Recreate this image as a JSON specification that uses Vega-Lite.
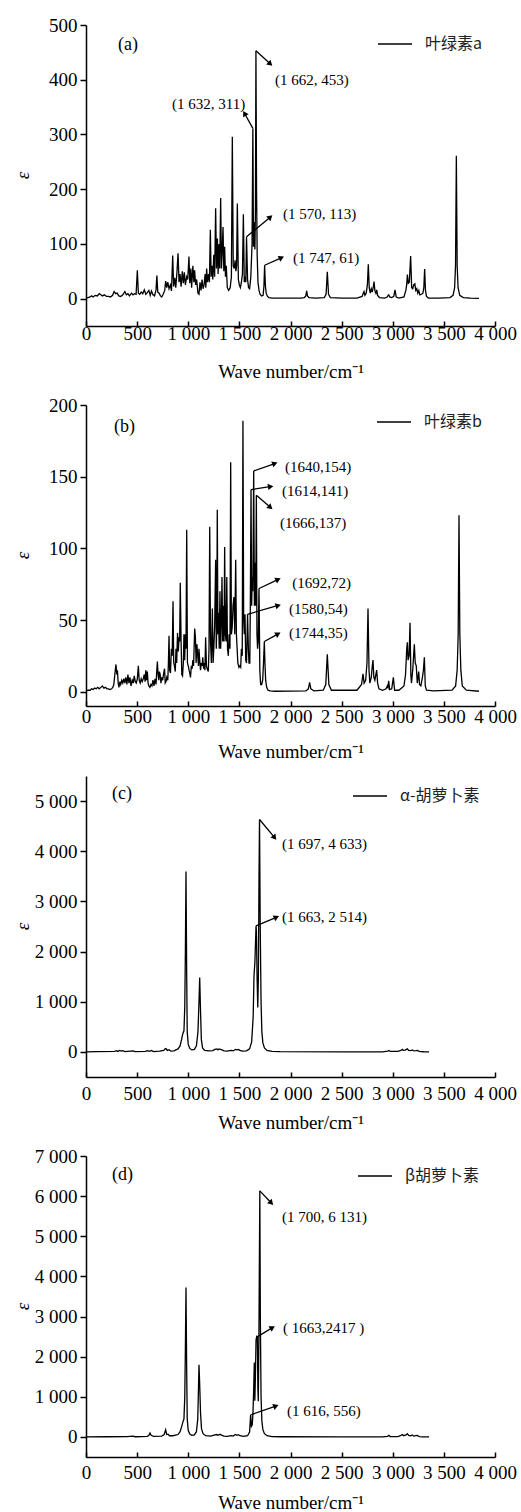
{
  "$schema": "https://vega.github.io/schema/vega-lite/v6.json",
  "background": "white",
  "padding": {"left": 13, "top": 16, "right": 4, "bottom": 0},
  "config": {
    "font": "Liberation Serif",
    "view": {"stroke": null},
    "axis": {"labelFont": "Liberation Serif", "labelFontSize": 19, "labelColor": "black", "titleFont": "Liberation Serif", "titleFontSize": 19, "titleColor": "black", "titleFontWeight": "normal", "domainColor": "black", "domainWidth": 1.5, "tickColor": "black", "tickWidth": 1.5, "grid": false},
    "axisX": {"tickSize": -5, "labelPadding": 3, "labelFlush": false, "labelOverlap": false},
    "axisY": {"tickSize": 6, "labelPadding": 3, "titleX": -64, "titleY": 150, "titleAlign": "center", "titleBaseline": "middle", "titleFontStyle": "italic", "labelOverlap": false},
    "legend": {"orient": "none", "title": null, "symbolType": "stroke", "symbolSize": 1156, "symbolStrokeWidth": 1.5, "labelFont": "Noto Sans CJK SC", "labelFontSize": 16, "labelColor": "#222", "labelOffset": 12},
    "concat": {"spacing": 15}
  },
  "resolve": {"scale": {"color": "independent", "x": "independent", "y": "independent"}, "legend": {"color": "independent"}},
  "datasets": {
    "specA": [
      {"wn":0,"eps":1},{"wn":20,"eps":2},{"wn":40,"eps":3},{"wn":55,"eps":5},{"wn":70,"eps":3},{"wn":90,"eps":6},{"wn":110,"eps":5},{"wn":130,"eps":9},{"wn":145,"eps":7},{"wn":160,"eps":5},{"wn":180,"eps":7},{"wn":200,"eps":4},{"wn":220,"eps":4},{"wn":240,"eps":3},{"wn":260,"eps":6},{"wn":275,"eps":13},{"wn":290,"eps":9},{"wn":305,"eps":10},{"wn":320,"eps":5},{"wn":340,"eps":4},{"wn":360,"eps":7},{"wn":380,"eps":13},{"wn":395,"eps":7},{"wn":410,"eps":9},{"wn":425,"eps":5},{"wn":445,"eps":10},{"wn":460,"eps":7},{"wn":475,"eps":9},{"wn":490,"eps":8},{"wn":502,"eps":52},{"wn":512,"eps":10},{"wn":525,"eps":8},{"wn":540,"eps":12},{"wn":555,"eps":9},{"wn":570,"eps":16},{"wn":585,"eps":8},{"wn":600,"eps":11},{"wn":615,"eps":15},{"wn":628,"eps":6},{"wn":640,"eps":14},{"wn":655,"eps":7},{"wn":670,"eps":5},{"wn":685,"eps":16},{"wn":693,"eps":42},{"wn":702,"eps":12},{"wn":715,"eps":10},{"wn":728,"eps":5},{"wn":740,"eps":3},{"wn":755,"eps":8},{"wn":770,"eps":15},{"wn":779,"eps":32},{"wn":790,"eps":20},{"wn":800,"eps":30},{"wn":812,"eps":18},{"wn":825,"eps":25},{"wn":836,"eps":14},{"wn":848,"eps":79},{"wn":857,"eps":22},{"wn":868,"eps":38},{"wn":878,"eps":20},{"wn":890,"eps":50},{"wn":900,"eps":83},{"wn":910,"eps":30},{"wn":920,"eps":45},{"wn":930,"eps":22},{"wn":942,"eps":50},{"wn":952,"eps":28},{"wn":962,"eps":48},{"wn":972,"eps":25},{"wn":985,"eps":40},{"wn":995,"eps":35},{"wn":1007,"eps":77},{"wn":1015,"eps":28},{"wn":1025,"eps":55},{"wn":1033,"eps":20},{"wn":1045,"eps":60},{"wn":1055,"eps":30},{"wn":1062,"eps":52},{"wn":1072,"eps":25},{"wn":1082,"eps":35},{"wn":1095,"eps":10},{"wn":1105,"eps":8},{"wn":1115,"eps":30},{"wn":1125,"eps":15},{"wn":1135,"eps":35},{"wn":1145,"eps":18},{"wn":1155,"eps":25},{"wn":1165,"eps":45},{"wn":1172,"eps":20},{"wn":1180,"eps":55},{"wn":1188,"eps":30},{"wn":1198,"eps":45},{"wn":1207,"eps":30},{"wn":1216,"eps":126},{"wn":1224,"eps":40},{"wn":1232,"eps":60},{"wn":1240,"eps":35},{"wn":1250,"eps":80},{"wn":1258,"eps":40},{"wn":1268,"eps":165},{"wn":1276,"eps":55},{"wn":1285,"eps":110},{"wn":1292,"eps":45},{"wn":1300,"eps":100},{"wn":1308,"eps":55},{"wn":1317,"eps":184},{"wn":1325,"eps":55},{"wn":1333,"eps":90},{"wn":1340,"eps":131},{"wn":1348,"eps":50},{"wn":1356,"eps":95},{"wn":1364,"eps":40},{"wn":1372,"eps":60},{"wn":1382,"eps":20},{"wn":1395,"eps":15},{"wn":1410,"eps":20},{"wn":1422,"eps":40},{"wn":1431,"eps":296},{"wn":1440,"eps":60},{"wn":1450,"eps":55},{"wn":1458,"eps":70},{"wn":1466,"eps":50},{"wn":1473,"eps":60},{"wn":1480,"eps":174},{"wn":1490,"eps":35},{"wn":1500,"eps":25},{"wn":1510,"eps":20},{"wn":1520,"eps":30},{"wn":1530,"eps":45},{"wn":1539,"eps":154},{"wn":1548,"eps":30},{"wn":1556,"eps":40},{"wn":1563,"eps":30},{"wn":1570,"eps":113},{"wn":1580,"eps":35},{"wn":1590,"eps":20},{"wn":1600,"eps":18},{"wn":1612,"eps":40},{"wn":1624,"eps":100},{"wn":1632,"eps":311},{"wn":1638,"eps":95},{"wn":1645,"eps":140},{"wn":1652,"eps":90},{"wn":1657,"eps":160},{"wn":1662,"eps":453},{"wn":1668,"eps":200},{"wn":1674,"eps":80},{"wn":1682,"eps":30},{"wn":1692,"eps":15},{"wn":1702,"eps":8},{"wn":1717,"eps":5},{"wn":1732,"eps":6},{"wn":1740,"eps":22},{"wn":1747,"eps":61},{"wn":1754,"eps":25},{"wn":1762,"eps":10},{"wn":1775,"eps":4},{"wn":1790,"eps":2},{"wn":1820,"eps":1},{"wn":1850,"eps":1},{"wn":2100,"eps":1},{"wn":2135,"eps":2},{"wn":2150,"eps":5},{"wn":2158,"eps":14},{"wn":2166,"eps":5},{"wn":2180,"eps":2},{"wn":2250,"eps":1},{"wn":2330,"eps":2},{"wn":2348,"eps":8},{"wn":2360,"eps":49},{"wn":2372,"eps":8},{"wn":2390,"eps":2},{"wn":2500,"eps":1},{"wn":2650,"eps":1},{"wn":2700,"eps":4},{"wn":2712,"eps":10},{"wn":2719,"eps":13},{"wn":2728,"eps":6},{"wn":2740,"eps":10},{"wn":2752,"eps":25},{"wn":2761,"eps":63},{"wn":2770,"eps":20},{"wn":2780,"eps":10},{"wn":2790,"eps":18},{"wn":2800,"eps":12},{"wn":2810,"eps":22},{"wn":2817,"eps":31},{"wn":2825,"eps":15},{"wn":2835,"eps":10},{"wn":2843,"eps":16},{"wn":2852,"eps":6},{"wn":2870,"eps":2},{"wn":2920,"eps":1},{"wn":2945,"eps":3},{"wn":2955,"eps":6},{"wn":2961,"eps":7},{"wn":2970,"eps":3},{"wn":2990,"eps":2},{"wn":3010,"eps":4},{"wn":3022,"eps":16},{"wn":3034,"eps":3},{"wn":3060,"eps":1},{"wn":3110,"eps":3},{"wn":3128,"eps":15},{"wn":3136,"eps":25},{"wn":3143,"eps":44},{"wn":3152,"eps":28},{"wn":3162,"eps":30},{"wn":3175,"eps":78},{"wn":3185,"eps":20},{"wn":3195,"eps":18},{"wn":3205,"eps":25},{"wn":3216,"eps":27},{"wn":3225,"eps":15},{"wn":3235,"eps":18},{"wn":3245,"eps":10},{"wn":3255,"eps":15},{"wn":3265,"eps":7},{"wn":3280,"eps":8},{"wn":3295,"eps":10},{"wn":3304,"eps":20},{"wn":3312,"eps":54},{"wn":3320,"eps":15},{"wn":3330,"eps":4},{"wn":3350,"eps":1},{"wn":3450,"eps":1},{"wn":3560,"eps":2},{"wn":3590,"eps":6},{"wn":3605,"eps":20},{"wn":3614,"eps":60},{"wn":3622,"eps":261},{"wn":3630,"eps":60},{"wn":3639,"eps":20},{"wn":3655,"eps":6},{"wn":3690,"eps":2},{"wn":3760,"eps":1},{"wn":3843,"eps":0.5}
    ],
    "specB": [
      {"wn":0,"eps":0.5},{"wn":20,"eps":1},{"wn":40,"eps":1},{"wn":55,"eps":2},{"wn":70,"eps":1.5},{"wn":85,"eps":2.5},{"wn":100,"eps":2},{"wn":115,"eps":3},{"wn":130,"eps":2},{"wn":145,"eps":3},{"wn":160,"eps":4},{"wn":175,"eps":2.5},{"wn":190,"eps":3},{"wn":205,"eps":2},{"wn":220,"eps":2},{"wn":235,"eps":1.5},{"wn":250,"eps":2},{"wn":262,"eps":3},{"wn":272,"eps":5},{"wn":285,"eps":14},{"wn":293,"eps":19},{"wn":300,"eps":13},{"wn":308,"eps":14},{"wn":315,"eps":6},{"wn":322,"eps":3},{"wn":332,"eps":7},{"wn":340,"eps":5},{"wn":350,"eps":8},{"wn":360,"eps":6},{"wn":370,"eps":9},{"wn":380,"eps":6},{"wn":390,"eps":10},{"wn":400,"eps":5},{"wn":410,"eps":12},{"wn":420,"eps":6},{"wn":430,"eps":10},{"wn":440,"eps":4},{"wn":452,"eps":8},{"wn":462,"eps":6},{"wn":472,"eps":11},{"wn":482,"eps":7},{"wn":492,"eps":6},{"wn":502,"eps":9},{"wn":512,"eps":18},{"wn":520,"eps":8},{"wn":530,"eps":6},{"wn":540,"eps":9},{"wn":550,"eps":7},{"wn":560,"eps":9},{"wn":570,"eps":12},{"wn":578,"eps":7},{"wn":585,"eps":15},{"wn":592,"eps":8},{"wn":600,"eps":14},{"wn":607,"eps":6},{"wn":615,"eps":4},{"wn":625,"eps":3},{"wn":635,"eps":5},{"wn":645,"eps":4},{"wn":655,"eps":8},{"wn":665,"eps":4},{"wn":675,"eps":9},{"wn":685,"eps":5},{"wn":690,"eps":12},{"wn":698,"eps":21},{"wn":705,"eps":12},{"wn":712,"eps":8},{"wn":718,"eps":14},{"wn":725,"eps":12},{"wn":733,"eps":6},{"wn":740,"eps":10},{"wn":750,"eps":8},{"wn":758,"eps":12},{"wn":768,"eps":16},{"wn":775,"eps":6},{"wn":783,"eps":7},{"wn":790,"eps":10},{"wn":800,"eps":8},{"wn":806,"eps":20},{"wn":812,"eps":39},{"wn":818,"eps":15},{"wn":826,"eps":13},{"wn":835,"eps":30},{"wn":843,"eps":25},{"wn":851,"eps":63},{"wn":858,"eps":20},{"wn":865,"eps":18},{"wn":873,"eps":14},{"wn":880,"eps":30},{"wn":887,"eps":20},{"wn":895,"eps":41},{"wn":903,"eps":28},{"wn":910,"eps":38},{"wn":916,"eps":35},{"wn":922,"eps":76},{"wn":930,"eps":35},{"wn":937,"eps":12},{"wn":944,"eps":11},{"wn":952,"eps":20},{"wn":958,"eps":40},{"wn":965,"eps":22},{"wn":972,"eps":40},{"wn":978,"eps":30},{"wn":985,"eps":113},{"wn":992,"eps":20},{"wn":1000,"eps":18},{"wn":1008,"eps":15},{"wn":1015,"eps":13},{"wn":1022,"eps":10},{"wn":1030,"eps":18},{"wn":1038,"eps":16},{"wn":1045,"eps":22},{"wn":1052,"eps":18},{"wn":1063,"eps":44},{"wn":1070,"eps":38},{"wn":1077,"eps":20},{"wn":1085,"eps":33},{"wn":1093,"eps":25},{"wn":1100,"eps":18},{"wn":1105,"eps":30},{"wn":1112,"eps":22},{"wn":1120,"eps":15},{"wn":1128,"eps":20},{"wn":1135,"eps":18},{"wn":1142,"eps":24},{"wn":1150,"eps":16},{"wn":1158,"eps":20},{"wn":1163,"eps":15},{"wn":1170,"eps":38},{"wn":1178,"eps":18},{"wn":1185,"eps":16},{"wn":1196,"eps":14},{"wn":1203,"eps":30},{"wn":1210,"eps":115},{"wn":1218,"eps":35},{"wn":1226,"eps":20},{"wn":1236,"eps":58},{"wn":1243,"eps":20},{"wn":1250,"eps":30},{"wn":1258,"eps":45},{"wn":1268,"eps":92},{"wn":1274,"eps":30},{"wn":1279,"eps":45},{"wn":1284,"eps":127},{"wn":1290,"eps":40},{"wn":1296,"eps":55},{"wn":1303,"eps":30},{"wn":1310,"eps":70},{"wn":1317,"eps":30},{"wn":1324,"eps":50},{"wn":1330,"eps":80},{"wn":1337,"eps":35},{"wn":1343,"eps":60},{"wn":1350,"eps":35},{"wn":1356,"eps":101},{"wn":1363,"eps":40},{"wn":1370,"eps":35},{"wn":1377,"eps":80},{"wn":1384,"eps":30},{"wn":1392,"eps":25},{"wn":1400,"eps":40},{"wn":1408,"eps":30},{"wn":1415,"eps":160},{"wn":1422,"eps":40},{"wn":1430,"eps":45},{"wn":1438,"eps":60},{"wn":1447,"eps":66},{"wn":1455,"eps":40},{"wn":1464,"eps":92},{"wn":1471,"eps":40},{"wn":1478,"eps":30},{"wn":1485,"eps":20},{"wn":1496,"eps":17},{"wn":1505,"eps":18},{"wn":1513,"eps":17},{"wn":1520,"eps":30},{"wn":1528,"eps":25},{"wn":1535,"eps":189},{"wn":1542,"eps":50},{"wn":1548,"eps":40},{"wn":1555,"eps":54},{"wn":1562,"eps":22},{"wn":1570,"eps":20},{"wn":1580,"eps":54},{"wn":1588,"eps":30},{"wn":1594,"eps":20},{"wn":1602,"eps":20},{"wn":1607,"eps":60},{"wn":1614,"eps":141},{"wn":1620,"eps":60},{"wn":1626,"eps":80},{"wn":1632,"eps":70},{"wn":1640,"eps":154},{"wn":1647,"eps":60},{"wn":1654,"eps":90},{"wn":1660,"eps":60},{"wn":1666,"eps":137},{"wn":1672,"eps":40},{"wn":1678,"eps":30},{"wn":1684,"eps":35},{"wn":1692,"eps":72},{"wn":1700,"eps":15},{"wn":1708,"eps":5},{"wn":1718,"eps":5},{"wn":1728,"eps":8},{"wn":1736,"eps":20},{"wn":1744,"eps":35},{"wn":1750,"eps":20},{"wn":1757,"eps":8},{"wn":1767,"eps":3},{"wn":1780,"eps":1},{"wn":1800,"eps":0.5},{"wn":1850,"eps":0.3},{"wn":2150,"eps":0.5},{"wn":2175,"eps":2},{"wn":2187,"eps":6.5},{"wn":2199,"eps":2},{"wn":2230,"eps":0.5},{"wn":2320,"eps":1},{"wn":2345,"eps":5},{"wn":2360,"eps":26},{"wn":2375,"eps":5},{"wn":2400,"eps":1},{"wn":2650,"eps":1},{"wn":2695,"eps":5},{"wn":2709,"eps":12.5},{"wn":2720,"eps":6},{"wn":2735,"eps":8},{"wn":2748,"eps":20},{"wn":2758,"eps":58},{"wn":2768,"eps":15},{"wn":2776,"eps":6},{"wn":2790,"eps":10},{"wn":2800,"eps":18},{"wn":2807,"eps":22},{"wn":2815,"eps":10},{"wn":2825,"eps":8},{"wn":2835,"eps":12},{"wn":2843,"eps":15},{"wn":2852,"eps":6},{"wn":2865,"eps":2},{"wn":2900,"eps":1},{"wn":2935,"eps":2},{"wn":2947,"eps":4},{"wn":2953,"eps":3},{"wn":2960,"eps":7.5},{"wn":2970,"eps":1.5},{"wn":2990,"eps":2},{"wn":3006,"eps":10},{"wn":3018,"eps":1},{"wn":3060,"eps":1},{"wn":3110,"eps":4},{"wn":3125,"eps":12},{"wn":3137,"eps":30},{"wn":3143,"eps":34.5},{"wn":3150,"eps":22},{"wn":3160,"eps":25},{"wn":3169,"eps":48},{"wn":3177,"eps":12},{"wn":3183,"eps":6},{"wn":3195,"eps":15},{"wn":3211,"eps":33},{"wn":3220,"eps":20},{"wn":3230,"eps":18},{"wn":3240,"eps":6},{"wn":3247,"eps":10},{"wn":3254,"eps":14},{"wn":3262,"eps":5},{"wn":3275,"eps":4},{"wn":3290,"eps":10},{"wn":3300,"eps":15},{"wn":3309,"eps":24},{"wn":3318,"eps":4},{"wn":3330,"eps":1},{"wn":3400,"eps":0.5},{"wn":3580,"eps":1},{"wn":3615,"eps":4},{"wn":3630,"eps":15},{"wn":3640,"eps":40},{"wn":3648,"eps":123},{"wn":3656,"eps":40},{"wn":3666,"eps":15},{"wn":3680,"eps":4},{"wn":3720,"eps":1},{"wn":3843,"eps":0.3}
    ],
    "specC": [
      {"wn":0,"eps":0},{"wn":100,"eps":5},{"wn":280,"eps":10},{"wn":300,"eps":25},{"wn":310,"eps":10},{"wn":330,"eps":30},{"wn":345,"eps":15},{"wn":360,"eps":25},{"wn":380,"eps":5},{"wn":460,"eps":20},{"wn":480,"eps":5},{"wn":580,"eps":10},{"wn":600,"eps":25},{"wn":620,"eps":10},{"wn":640,"eps":30},{"wn":660,"eps":5},{"wn":720,"eps":15},{"wn":760,"eps":30},{"wn":775,"eps":60},{"wn":783,"eps":67},{"wn":795,"eps":30},{"wn":812,"eps":45},{"wn":830,"eps":15},{"wn":860,"eps":20},{"wn":900,"eps":60},{"wn":920,"eps":120},{"wn":935,"eps":250},{"wn":945,"eps":350},{"wn":958,"eps":420},{"wn":966,"eps":900},{"wn":972,"eps":2000},{"wn":978,"eps":3594},{"wn":985,"eps":1500},{"wn":990,"eps":400},{"wn":1000,"eps":150},{"wn":1015,"eps":70},{"wn":1035,"eps":40},{"wn":1060,"eps":50},{"wn":1080,"eps":120},{"wn":1095,"eps":400},{"wn":1105,"eps":1000},{"wn":1112,"eps":1482},{"wn":1119,"eps":900},{"wn":1128,"eps":250},{"wn":1140,"eps":80},{"wn":1160,"eps":30},{"wn":1200,"eps":20},{"wn":1240,"eps":25},{"wn":1260,"eps":50},{"wn":1280,"eps":60},{"wn":1290,"eps":40},{"wn":1300,"eps":60},{"wn":1315,"eps":50},{"wn":1330,"eps":40},{"wn":1350,"eps":20},{"wn":1380,"eps":15},{"wn":1420,"eps":30},{"wn":1440,"eps":20},{"wn":1460,"eps":50},{"wn":1475,"eps":40},{"wn":1490,"eps":50},{"wn":1505,"eps":30},{"wn":1530,"eps":15},{"wn":1570,"eps":20},{"wn":1600,"eps":60},{"wn":1620,"eps":200},{"wn":1635,"eps":700},{"wn":1643,"eps":1515},{"wn":1652,"eps":1800},{"wn":1663,"eps":2514},{"wn":1667,"eps":2400},{"wn":1673,"eps":1500},{"wn":1680,"eps":884},{"wn":1686,"eps":1500},{"wn":1692,"eps":3500},{"wn":1697,"eps":4633},{"wn":1704,"eps":2500},{"wn":1712,"eps":1000},{"wn":1720,"eps":400},{"wn":1730,"eps":180},{"wn":1745,"eps":80},{"wn":1770,"eps":30},{"wn":1820,"eps":10},{"wn":1900,"eps":5},{"wn":2500,"eps":0},{"wn":2900,"eps":2},{"wn":2950,"eps":15},{"wn":2963,"eps":30},{"wn":2975,"eps":10},{"wn":3050,"eps":10},{"wn":3080,"eps":30},{"wn":3094,"eps":50},{"wn":3105,"eps":30},{"wn":3120,"eps":35},{"wn":3143,"eps":60},{"wn":3155,"eps":30},{"wn":3175,"eps":25},{"wn":3191,"eps":40},{"wn":3205,"eps":20},{"wn":3225,"eps":25},{"wn":3240,"eps":30},{"wn":3260,"eps":10},{"wn":3300,"eps":3},{"wn":3355,"eps":0}
    ],
    "specD": [
      {"wn":0,"eps":0},{"wn":200,"eps":5},{"wn":400,"eps":10},{"wn":460,"eps":20},{"wn":480,"eps":5},{"wn":600,"eps":15},{"wn":615,"eps":40},{"wn":626,"eps":100},{"wn":637,"eps":40},{"wn":660,"eps":15},{"wn":740,"eps":20},{"wn":765,"eps":60},{"wn":779,"eps":180},{"wn":790,"eps":60},{"wn":805,"eps":70},{"wn":815,"eps":30},{"wn":850,"eps":30},{"wn":900,"eps":60},{"wn":920,"eps":130},{"wn":935,"eps":250},{"wn":945,"eps":350},{"wn":958,"eps":450},{"wn":966,"eps":1000},{"wn":972,"eps":2200},{"wn":978,"eps":3723},{"wn":985,"eps":1600},{"wn":990,"eps":450},{"wn":1000,"eps":160},{"wn":1015,"eps":70},{"wn":1035,"eps":40},{"wn":1060,"eps":50},{"wn":1080,"eps":130},{"wn":1093,"eps":450},{"wn":1100,"eps":1200},{"wn":1105,"eps":1800},{"wn":1112,"eps":1300},{"wn":1120,"eps":600},{"wn":1130,"eps":200},{"wn":1145,"eps":80},{"wn":1170,"eps":30},{"wn":1220,"eps":20},{"wn":1260,"eps":50},{"wn":1280,"eps":60},{"wn":1290,"eps":40},{"wn":1310,"eps":65},{"wn":1330,"eps":40},{"wn":1350,"eps":20},{"wn":1380,"eps":15},{"wn":1420,"eps":30},{"wn":1440,"eps":20},{"wn":1460,"eps":60},{"wn":1475,"eps":40},{"wn":1490,"eps":55},{"wn":1505,"eps":30},{"wn":1540,"eps":15},{"wn":1580,"eps":30},{"wn":1600,"eps":120},{"wn":1610,"eps":556},{"wn":1618,"eps":265},{"wn":1626,"eps":300},{"wn":1633,"eps":600},{"wn":1640,"eps":1200},{"wn":1646,"eps":1857},{"wn":1651,"eps":900},{"wn":1656,"eps":1400},{"wn":1663,"eps":2417},{"wn":1670,"eps":2500},{"wn":1676,"eps":2480},{"wn":1681,"eps":1200},{"wn":1685,"eps":890},{"wn":1691,"eps":2500},{"wn":1700,"eps":6131},{"wn":1705,"eps":3000},{"wn":1712,"eps":1000},{"wn":1720,"eps":400},{"wn":1730,"eps":180},{"wn":1745,"eps":80},{"wn":1770,"eps":30},{"wn":1820,"eps":10},{"wn":1900,"eps":5},{"wn":2500,"eps":0},{"wn":2900,"eps":2},{"wn":2950,"eps":15},{"wn":2963,"eps":40},{"wn":2975,"eps":10},{"wn":3050,"eps":10},{"wn":3080,"eps":40},{"wn":3094,"eps":60},{"wn":3105,"eps":30},{"wn":3130,"eps":50},{"wn":3143,"eps":80},{"wn":3155,"eps":40},{"wn":3175,"eps":30},{"wn":3191,"eps":50},{"wn":3205,"eps":20},{"wn":3225,"eps":30},{"wn":3240,"eps":35},{"wn":3260,"eps":10},{"wn":3300,"eps":3},{"wn":3355,"eps":0}
    ],
    "arrA": [
      {"wn":1662,"eps":453,"wn2":1796,"eps2":430,"ang":133},
      {"wn":1632,"eps":311,"wn2":1555,"eps2":337,"ang":-29},
      {"wn":1570,"eps":113,"wn2":1796,"eps2":148,"ang":48},
      {"wn":1747,"eps":61,"wn2":1904,"eps2":74,"ang":65}
    ],
    "labA": [
      {"wn":1848,"eps":400,"t":"(1 662, 453)"},
      {"wn":841,"eps":355,"t":"(1 632, 311)"},
      {"wn":1927,"eps":154,"t":"(1 570, 113)"},
      {"wn":2024,"eps":75,"t":"(1 747, 61)"}
    ],
    "arrB": [
      {"wn":1640,"eps":154,"wn2":1839,"eps2":159,"ang":70},
      {"wn":1614,"eps":141,"wn2":1797,"eps2":143,"ang":81},
      {"wn":1666,"eps":137,"wn2":1797,"eps2":129,"ang":131},
      {"wn":1692,"eps":72,"wn2":1871,"eps2":78,"ang":65},
      {"wn":1580,"eps":54,"wn2":1871,"eps2":60,"ang":74},
      {"wn":1744,"eps":35,"wn2":1871,"eps2":40,"ang":61}
    ],
    "labB": [
      {"wn":1946,"eps":157,"t":"(1640,154)"},
      {"wn":1916,"eps":140,"t":"(1614,141)"},
      {"wn":1897,"eps":118,"t":"(1666,137)"},
      {"wn":2017,"eps":75.6,"t":"(1692,72)"},
      {"wn":1985,"eps":58,"t":"(1580,54)"},
      {"wn":1985,"eps":40.7,"t":"(1744,35)"}
    ],
    "arrC": [
      {"wn":1697,"eps":4633,"wn2":1839,"eps2":4286,"ang":142},
      {"wn":1663,"eps":2514,"wn2":1855,"eps2":2678,"ang":66}
    ],
    "labC": [
      {"wn":1916,"eps":4140,"t":"(1 697, 4 633)"},
      {"wn":1916,"eps":2691,"t":"(1 663, 2 514)"}
    ],
    "arrD": [
      {"wn":1700,"eps":6131,"wn2":1806,"eps2":5846,"ang":136},
      {"wn":1666,"eps":2480,"wn2":1816,"eps2":2711,"ang":59},
      {"wn":1616,"eps":556,"wn2":1849,"eps2":763,"ang":69}
    ],
    "labD": [
      {"wn":1916,"eps":5489,"t":"(1 700, 6 131)"},
      {"wn":1927,"eps":2711,"t":"( 1663,2417 )"},
      {"wn":1966,"eps":638,"t":"(1 616, 556)"}
    ]
  },
  "vconcat": [
    {
      "width": 409, "height": 301,
      "layer": [
        {"data": {"name": "specA"}, "mark": {"type": "line", "strokeWidth": 1.3},
         "encoding": {
           "x": {"field": "wn", "type": "quantitative", "scale": {"domain": [0, 4000], "nice": false}, "axis": {"title": "Wave number/cm⁻¹", "labelPadding": 3, "titlePadding": 19, "values": [0,500,1000,1500,2000,2500,3000,3500,4000], "labelExpr": "replace(format(datum.value, ','), ',', ' ')"}},
           "y": {"field": "eps", "type": "quantitative", "scale": {"domain": [-50, 500], "nice": false, "zero": false}, "axis": {"title": "ε", "values": [0,100,200,300,400,500], "labelExpr": "replace(format(datum.value, ','), ',', ' ')"}},
           "color": {"datum": "叶绿素a", "type": "nominal", "scale": {"range": ["black"]}, "legend": {"legendX": 291, "legendY": 1}}
         }},
        {"data": {"name": "arrA"}, "mark": {"type": "rule", "strokeWidth": 1.3, "color": "black"},
         "encoding": {"x": {"field": "wn", "type": "quantitative"}, "y": {"field": "eps", "type": "quantitative"}, "x2": {"field": "wn2"}, "y2": {"field": "eps2"}}},
        {"data": {"name": "arrA"}, "mark": {"type": "point", "shape": "triangle", "filled": true, "color": "black", "size": 40, "opacity": 1},
         "encoding": {"x": {"field": "wn2", "type": "quantitative"}, "y": {"field": "eps2", "type": "quantitative"}, "angle": {"field": "ang", "type": "quantitative", "scale": null}}},
        {"data": {"name": "labA"}, "mark": {"type": "text", "align": "left", "baseline": "middle", "fontSize": 15, "font": "Liberation Serif", "color": "black"},
         "encoding": {"x": {"field": "wn", "type": "quantitative"}, "y": {"field": "eps", "type": "quantitative"}, "text": {"field": "t"}}},
        {"data": {"values": [{"wn": 313, "eps": 464, "t": "(a)"}]}, "mark": {"type": "text", "align": "left", "baseline": "middle", "fontSize": 18, "font": "Liberation Serif", "color": "black"},
         "encoding": {"x": {"field": "wn", "type": "quantitative"}, "y": {"field": "eps", "type": "quantitative"}, "text": {"field": "t"}}}
      ]
    },
    {
      "width": 409, "height": 301,
      "layer": [
        {"data": {"name": "specB"}, "mark": {"type": "line", "strokeWidth": 1.3},
         "encoding": {
           "x": {"field": "wn", "type": "quantitative", "scale": {"domain": [0, 4000], "nice": false}, "axis": {"title": "Wave number/cm⁻¹", "labelPadding": 6, "titlePadding": 16, "values": [0,500,1000,1500,2000,2500,3000,3500,4000], "labelExpr": "replace(format(datum.value, ','), ',', ' ')"}},
           "y": {"field": "eps", "type": "quantitative", "scale": {"domain": [-10, 200], "nice": false, "zero": false}, "axis": {"title": "ε", "values": [0,50,100,150,200]}},
           "color": {"datum": "叶绿素b", "type": "nominal", "scale": {"range": ["black"]}, "legend": {"legendX": 290, "legendY": -1}}
         }},
        {"data": {"name": "arrB"}, "mark": {"type": "rule", "strokeWidth": 1.3, "color": "black"},
         "encoding": {"x": {"field": "wn", "type": "quantitative"}, "y": {"field": "eps", "type": "quantitative"}, "x2": {"field": "wn2"}, "y2": {"field": "eps2"}}},
        {"data": {"name": "arrB"}, "mark": {"type": "point", "shape": "triangle", "filled": true, "color": "black", "size": 40, "opacity": 1},
         "encoding": {"x": {"field": "wn2", "type": "quantitative"}, "y": {"field": "eps2", "type": "quantitative"}, "angle": {"field": "ang", "type": "quantitative", "scale": null}}},
        {"data": {"name": "labB"}, "mark": {"type": "text", "align": "left", "baseline": "middle", "fontSize": 15, "font": "Liberation Serif", "color": "black"},
         "encoding": {"x": {"field": "wn", "type": "quantitative"}, "y": {"field": "eps", "type": "quantitative"}, "text": {"field": "t"}}},
        {"data": {"values": [{"wn": 274, "eps": 185, "t": "(b)"}]}, "mark": {"type": "text", "align": "left", "baseline": "middle", "fontSize": 18, "font": "Liberation Serif", "color": "black"},
         "encoding": {"x": {"field": "wn", "type": "quantitative"}, "y": {"field": "eps", "type": "quantitative"}, "text": {"field": "t"}}}
      ]
    },
    {
      "width": 409, "height": 301,
      "layer": [
        {"data": {"name": "specC"}, "mark": {"type": "line", "strokeWidth": 1.3},
         "encoding": {
           "x": {"field": "wn", "type": "quantitative", "scale": {"domain": [0, 4000], "nice": false}, "axis": {"title": "Wave number/cm⁻¹", "labelPadding": 12, "titlePadding": 10, "values": [0,500,1000,1500,2000,2500,3000,3500,4000], "labelExpr": "replace(format(datum.value, ','), ',', ' ')"}},
           "y": {"field": "eps", "type": "quantitative", "scale": {"domain": [-500, 5500], "nice": false, "zero": false}, "axis": {"title": "ε", "values": [0,1000,2000,3000,4000,5000], "labelExpr": "replace(format(datum.value, ','), ',', ' ')"}},
           "color": {"datum": "α-胡萝卜素", "type": "nominal", "scale": {"range": ["black"]}, "legend": {"legendX": 266, "legendY": 2}}
         }},
        {"data": {"name": "arrC"}, "mark": {"type": "rule", "strokeWidth": 1.3, "color": "black"},
         "encoding": {"x": {"field": "wn", "type": "quantitative"}, "y": {"field": "eps", "type": "quantitative"}, "x2": {"field": "wn2"}, "y2": {"field": "eps2"}}},
        {"data": {"name": "arrC"}, "mark": {"type": "point", "shape": "triangle", "filled": true, "color": "black", "size": 40, "opacity": 1},
         "encoding": {"x": {"field": "wn2", "type": "quantitative"}, "y": {"field": "eps2", "type": "quantitative"}, "angle": {"field": "ang", "type": "quantitative", "scale": null}}},
        {"data": {"name": "labC"}, "mark": {"type": "text", "align": "left", "baseline": "middle", "fontSize": 15, "font": "Liberation Serif", "color": "black"},
         "encoding": {"x": {"field": "wn", "type": "quantitative"}, "y": {"field": "eps", "type": "quantitative"}, "text": {"field": "t"}}},
        {"data": {"values": [{"wn": 254, "eps": 5136, "t": "(c)"}]}, "mark": {"type": "text", "align": "left", "baseline": "middle", "fontSize": 18, "font": "Liberation Serif", "color": "black"},
         "encoding": {"x": {"field": "wn", "type": "quantitative"}, "y": {"field": "eps", "type": "quantitative"}, "text": {"field": "t"}}}
      ]
    },
    {
      "width": 409, "height": 301,
      "layer": [
        {"data": {"name": "specD"}, "mark": {"type": "line", "strokeWidth": 1.3},
         "encoding": {
           "x": {"field": "wn", "type": "quantitative", "scale": {"domain": [0, 4000], "nice": false}, "axis": {"title": "Wave number/cm⁻¹", "labelPadding": 11, "titlePadding": 11, "values": [0,500,1000,1500,2000,2500,3000,3500,4000], "labelExpr": "replace(format(datum.value, ','), ',', ' ')"}},
           "y": {"field": "eps", "type": "quantitative", "scale": {"domain": [-500, 7000], "nice": false, "zero": false}, "axis": {"title": "ε", "values": [0,1000,2000,3000,4000,5000,6000,7000], "labelExpr": "replace(format(datum.value, ','), ',', ' ')"}},
           "color": {"datum": "β胡萝卜素", "type": "nominal", "scale": {"range": ["black"]}, "legend": {"legendX": 271, "legendY": 2}}
         }},
        {"data": {"name": "arrD"}, "mark": {"type": "rule", "strokeWidth": 1.3, "color": "black"},
         "encoding": {"x": {"field": "wn", "type": "quantitative"}, "y": {"field": "eps", "type": "quantitative"}, "x2": {"field": "wn2"}, "y2": {"field": "eps2"}}},
        {"data": {"name": "arrD"}, "mark": {"type": "point", "shape": "triangle", "filled": true, "color": "black", "size": 40, "opacity": 1},
         "encoding": {"x": {"field": "wn2", "type": "quantitative"}, "y": {"field": "eps2", "type": "quantitative"}, "angle": {"field": "ang", "type": "quantitative", "scale": null}}},
        {"data": {"name": "labD"}, "mark": {"type": "text", "align": "left", "baseline": "middle", "fontSize": 15, "font": "Liberation Serif", "color": "black"},
         "encoding": {"x": {"field": "wn", "type": "quantitative"}, "y": {"field": "eps", "type": "quantitative"}, "text": {"field": "t"}}},
        {"data": {"values": [{"wn": 254, "eps": 6526, "t": "(d)"}]}, "mark": {"type": "text", "align": "left", "baseline": "middle", "fontSize": 18, "font": "Liberation Serif", "color": "black"},
         "encoding": {"x": {"field": "wn", "type": "quantitative"}, "y": {"field": "eps", "type": "quantitative"}, "text": {"field": "t"}}}
      ]
    }
  ]
}
